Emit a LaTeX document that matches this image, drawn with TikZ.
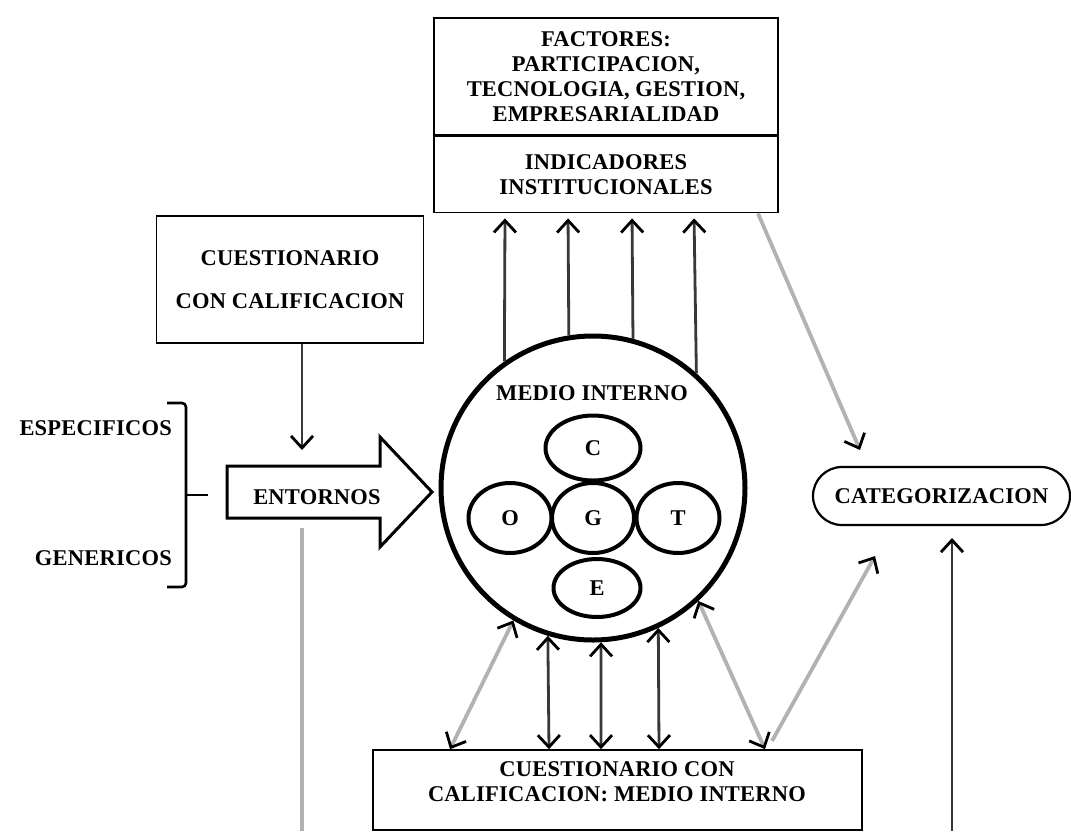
\documentclass[tikz,border=0pt]{standalone}
\usepackage{fontspec}
\setmainfont[LetterSpace=1]{Liberation Serif}
\usetikzlibrary{arrows.meta,shapes.geometric,calc}
\begin{document}
\begin{tikzpicture}[x=1pt,y=-1pt,
  lbl/.style={font=\bfseries\fontsize{22.5}{25}\selectfont, align=center, inner sep=0pt},
  box/.style={draw, line width=1.6pt, inner sep=0pt},
  ring/.style={ellipse, draw, line width=4pt, inner sep=0pt, lbl},
  >={Straight Barb[length=12pt,width=22pt,line width=2.8pt,color=black]},
  conn/.style={line width=2.8pt, black!78},
  gconn/.style={line width=3.8pt, gray!60},
]
\useasboundingbox (0,0) rectangle (1071,831);

% upper box: factors and indicators
\node[box, lbl, minimum width=344pt, minimum height=117pt] (fac) at (606,76.5)
  {FACTORES:\\PARTICIPACION,\\TECNOLOGIA, GESTION,\\EMPRESARIALIDAD};
\node[box, lbl, minimum width=344pt, minimum height=76pt, anchor=north] (ind) at (fac.south)
  {INDICADORES\\INSTITUCIONALES};

% questionnaire box
\node[box, lbl, minimum width=267pt, minimum height=127pt] (cue) at (290,279.5)
  {CUESTIONARIO\\[18pt]CON CALIFICACION};

% internal environment
\node[circle, draw, line width=5pt, minimum size=304pt, inner sep=0pt] (mi) at (593,488) {};
\node[lbl] (mit) at (592,393) {MEDIO INTERNO};
\node[ring, minimum width=95pt, minimum height=65pt] (c) at (593,448) {C};
\node[ring, minimum width=82pt, minimum height=70pt] (g) at (593,518) {G};
\node[ring, minimum width=83pt, minimum height=70pt] (o) at (510,518) {O};
\node[ring, minimum width=83pt, minimum height=70pt] (t) at (678,518) {T};
\node[ring, minimum width=87pt, minimum height=58pt] (e) at (597,588) {E};

% block arrow of the environments
\draw[line width=3pt, line join=miter] (227,466) -- (380,466) -- (380,437) -- (432,492)
  -- (380,547) -- (380,518) -- (227,518) -- cycle;
\node[lbl] (ent) at (317,497) {ENTORNOS};

% brace with its two labels
\draw[line width=2.6pt, rounded corners=4pt] (167,403) -- (186,403) -- (186,587) -- (167,587);
\draw[line width=2.6pt] (186,495) -- (208,495);
\node[lbl, anchor=east] (esp) at (172,428) {ESPECIFICOS};
\node[lbl, anchor=east] (gen) at (172,558) {GENERICOS};

% categorization
\node[draw, line width=2.2pt, rounded corners=29pt, minimum width=257pt, minimum height=58pt, lbl]
  (cat) at (941.5,496) {CATEGORIZACION};

% lower questionnaire box
\node[box, minimum width=489pt, minimum height=80pt] (qbox) at (617.5,790) {};
\node[lbl] (qtext) at (617,781.5) {CUESTIONARIO CON\\CALIFICACION: MEDIO INTERNO};

% free ends
\coordinate (a1) at (302,450);
\coordinate (b1) at (302,528);
\coordinate (b2) at (302,831);
\coordinate (k1) at (860,450);
\coordinate (k2) at (952,831);
\coordinate (k3) at (952,538);
\coordinate (c1) at (772,741);
\coordinate (c2) at (875,556);

% connectors
\draw[conn,->] (cue.south -| a1) -- (a1);
\draw[gconn] (b1) -- (b2);
\foreach \x/\a in {505/125.4, 568/99.5, 632/75.1, 694/48.4}
  \draw[conn,->,shorten >=5pt] (mi.\a) -- (ind.south -| \x,0);
\foreach \x/\a in {549/253.2, 601/273, 659/295.7}
  \draw[conn,<->] (mi.\a) -- (qbox.north -| \x,0);
\draw[gconn,<->] (mi.239.1) -- (qbox.north -| 450,0);
\draw[gconn,<->] (mi.313.2) -- (qbox.north -| 765,0);
\draw[gconn,->] (ind.south -| 758,0) -- (k1);
\draw[gconn,->] (c1) -- (c2);
\draw[conn,->] (k2) -- (k3);
\end{tikzpicture}
\end{document}
